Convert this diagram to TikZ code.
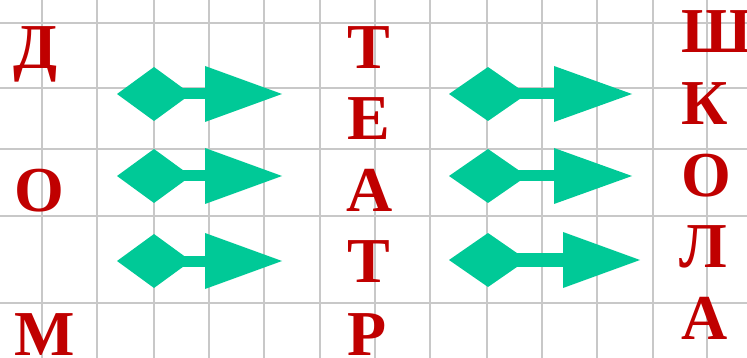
\documentclass[tikz,border=0pt]{standalone}
\usepackage{fontspec}
\setmainfont{Liberation Serif}
\definecolor{letterred}{RGB}{192,0,0}
\definecolor{arrowgreen}{RGB}{0,201,151}
\definecolor{gridgray}{RGB}{200,200,200}
\newcommand{\grnarrow}[6]{% #1 diamond left x, #2 diamond center x, #3 head base x, #4 tip x, #5 center y, #6 shaft half thickness
  \fill[arrowgreen] (#1,#5) -- (#2,#5-27) -- (2*#2-#1,#5) -- (#2,#5+27) -- cycle;
  \fill[arrowgreen] (#2+25,#5-#6) rectangle (#3+1,#5+#6);
  \fill[arrowgreen] (#3,#5-28) -- (#4,#5) -- (#3,#5+28) -- cycle;
}
\begin{document}
\begin{tikzpicture}[x=1pt,y=-1pt,
  letter/.style={text=letterred,font=\fontsize{64}{64}\selectfont\bfseries,inner sep=0pt,anchor=base west},
  gridline/.style={draw=gridgray,line width=2.5pt}]
\useasboundingbox (0,0) rectangle (747,358);
\fill[white] (0,0) rectangle (747,358);
% grid
\foreach \gx in {42,97,154,209,264,320,375,430,487,542,597,653,707}
  \draw[gridline] (\gx,0) -- (\gx,358);
\foreach \gy in {23,88,149,216,303}
  \draw[gridline] (0,\gy) -- (747,\gy);
% left column
\node[letter] (d) at (13,69) {Д};
\node[letter] (o1) at (14,212) {О};
\node[letter] (m) at (14,355) {М};
% middle column
\node[letter] (t1) at (347,69) {Т};
\node[letter] (e) at (347,140) {Е};
\node[letter] (a1) at (346,212) {А};
\node[letter] (t2) at (347,283) {Т};
\node[letter] (r) at (347,355) {Р};
% right column
\node[letter] (sh) at (681,53) {Ш};
\node[letter] (k) at (681,125) {К};
\node[letter] (o2) at (681,197) {О};
\node[letter] (l) at (679,268) {Л};
\node[letter] (a2) at (681,339) {А};
% arrows
\grnarrow{117}{154}{205}{282}{94}{5.5}
\grnarrow{117}{154}{205}{282}{176}{5.5}
\grnarrow{117}{154}{205}{282}{261}{5.5}
\grnarrow{449}{488}{554}{632}{94}{5.5}
\grnarrow{449}{488}{554}{632}{176}{5.5}
\grnarrow{449}{488}{563}{640}{260}{6.5}
\end{tikzpicture}
\end{document}
